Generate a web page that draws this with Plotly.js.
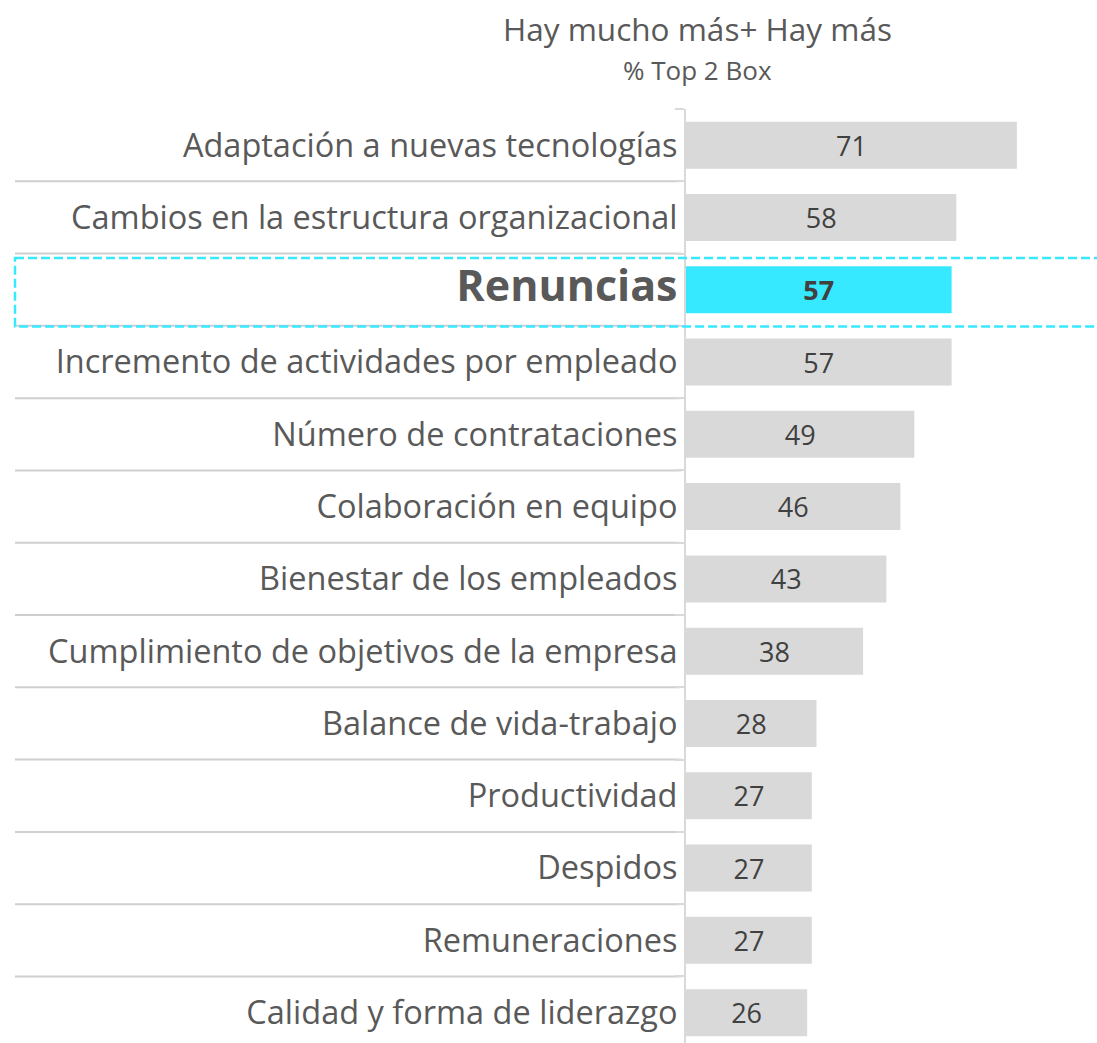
<!DOCTYPE html>
<html>
<head>
<meta charset="utf-8">
<script src="https://cdn.plot.ly/plotly-3.0.1.min.js"></script>
<style>html,body{margin:0;padding:0;background:#fff;}#chart{width:1097px;height:1043px;}</style>
</head>
<body>
<div id="chart"></div>
<script>
const categories = [
  "Adaptación a nuevas tecnologías",
  "Cambios en la estructura organizacional",
  "Renuncias",
  "Incremento de actividades por empleado",
  "Número de contrataciones",
  "Colaboración en equipo",
  "Bienestar de los empleados",
  "Cumplimiento de objetivos de la empresa",
  "Balance de vida-trabajo",
  "Productividad",
  "Despidos",
  "Remuneraciones",
  "Calidad y forma de liderazgo"
];
const values = [71, 58, 57, 57, 49, 46, 43, 38, 28, 27, 27, 27, 26];
const highlight = "Renuncias";
const titleMain = "Hay mucho más+ Hay más";
const titleSub = "% Top 2 Box";

const FONT = "Open Sans, sans-serif";
const TXT = "#595959";
const hiIdx = categories.indexOf(highlight);

const tickText = categories.map(c => c === highlight
  ? '<b><span style="font-size:43px">' + c + '</span></b>' : c);
const barText = values.map((v, i) => i === hiIdx ? '<b>' + v + '</b>' : String(v));
const colors = categories.map(c => c === highlight ? "#36E9FF" : "#D9D9D9");

const L = 686, W = 1097, plotW = W - L;
const px2paper = p => (p - L) / plotW;

const shapes = [];
for (let i = 0; i < categories.length - 1; i++) {
  shapes.push({type: "line", xref: "paper", yref: "y", x0: px2paper(15), x1: px2paper(681),
    y0: i + 0.5, y1: i + 0.5, line: {color: "#CFCFCF", width: 2}, layer: "below"});
}
shapes.push({type: "rect", xref: "paper", yref: "y", x0: px2paper(15), x1: 1.02,
  y0: hiIdx - 0.44, y1: hiIdx + 0.51, line: {color: "#36E9FF", width: 2.5, dash: "9px,4px"},
  fillcolor: "rgba(0,0,0,0)"});

const trace = {
  type: "bar", orientation: "h",
  y: categories, x: values,
  marker: {color: colors},
  width: 0.65,
  text: barText, textposition: "inside", insidetextanchor: "middle",
  textangle: 0,
  insidetextfont: {family: FONT, size: 27, color: "#404040"},
  hoverinfo: "none", cliponaxis: false
};

const layout = {
  width: 1097, height: 1043,
  margin: {l: L, r: 0, t: 109, b: 0},
  paper_bgcolor: "#fff", plot_bgcolor: "#fff",
  font: {family: FONT, color: TXT},
  showlegend: false,
  xaxis: {range: [0, plotW / 4.66], visible: false, fixedrange: true},
  yaxis: {
    type: "category",
    range: [12.42, -0.5],
    tickvals: categories, ticktext: tickText,
    tickfont: {family: FONT, size: 32.5, color: TXT},
    ticks: "outside", ticklen: 9, tickcolor: "#D9D9D9", tickwidth: 2,
    tickson: "boundaries",
    showline: true, linecolor: "#D9D9D9", linewidth: 2,
    showgrid: false, zeroline: false, ticklabelstandoff: 0, automargin: false
  },
  shapes: shapes,
  annotations: [
    {xref: "paper", yref: "paper", x: px2paper(697), y: 1, yshift: 81, text: titleMain,
     showarrow: false, xanchor: "center", yanchor: "middle", font: {family: FONT, size: 31.5, color: TXT}},
    {xref: "paper", yref: "paper", x: px2paper(697), y: 1, yshift: 39, text: titleSub,
     showarrow: false, xanchor: "center", yanchor: "middle", font: {family: FONT, size: 26, color: TXT}}
  ]
};

Plotly.newPlot("chart", [trace], layout, {displayModeBar: false, staticPlot: true});
</script>
</body>
</html>
